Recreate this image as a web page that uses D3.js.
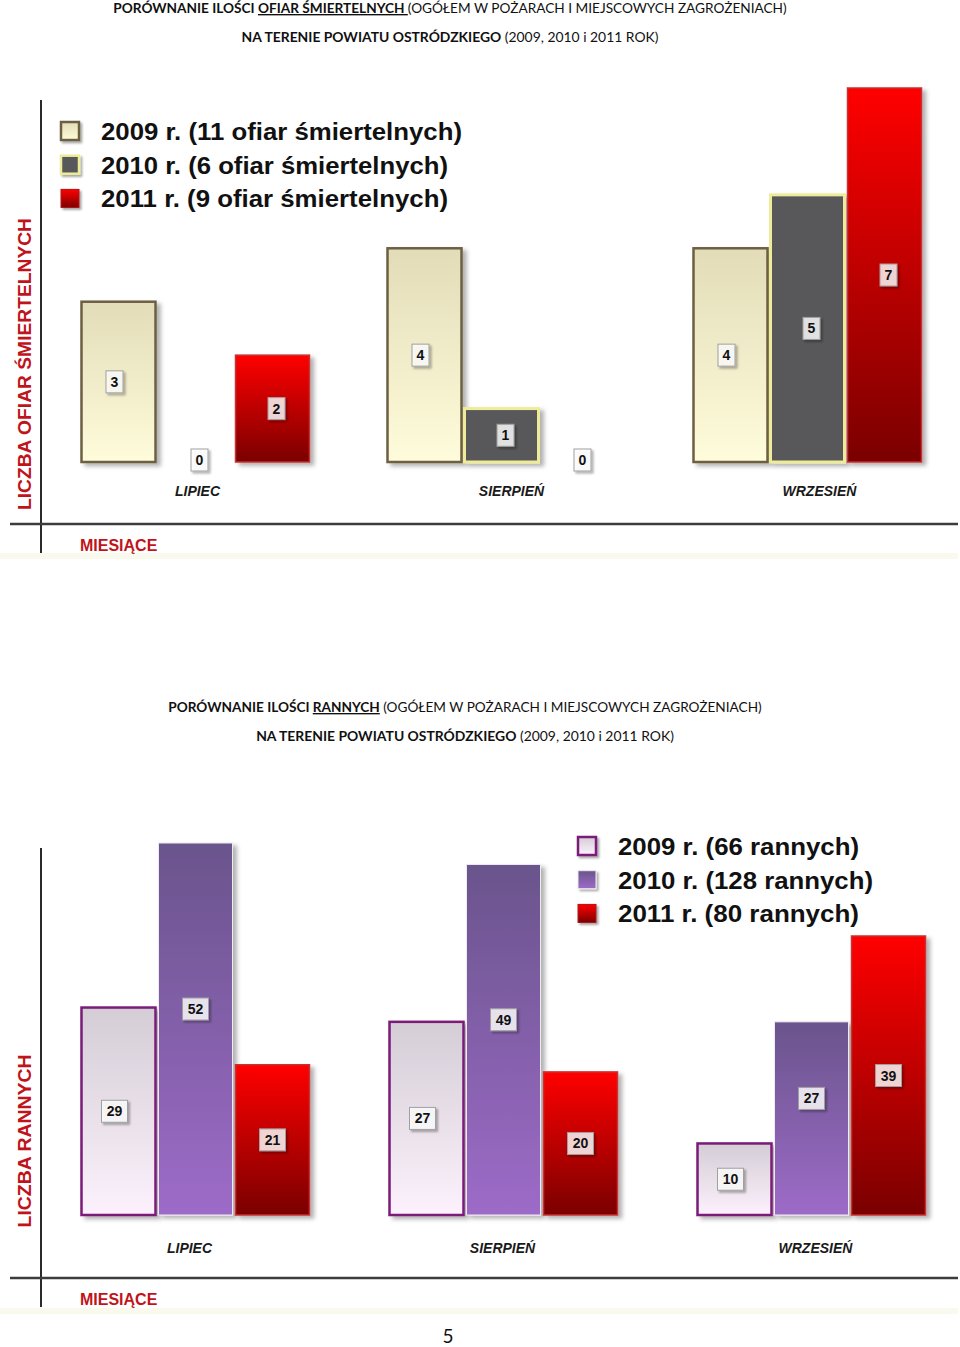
<!DOCTYPE html>
<html><head><meta charset="utf-8">
<script src="https://cdn.jsdelivr.net/npm/d3@7"></script>
<style>body{margin:0;background:#fff}svg{display:block}</style>
</head><body>
<svg id="page" width="960" height="1347"></svg>
<script>
// ---------- DATA ----------
const months = ["LIPIEC", "SIERPIEŃ", "WRZESIEŃ"];
const years = ["2009", "2010", "2011"];

const deaths2009 = [3, 4, 4];
const deaths2010 = [0, 1, 5];
const deaths2011 = [2, 0, 7];
const deathsLegend = ["2009 r. (11 ofiar śmiertelnych)", "2010 r. (6 ofiar śmiertelnych)", "2011 r. (9 ofiar śmiertelnych)"];

const injured2009 = [29, 27, 10];
const injured2010 = [52, 49, 27];
const injured2011 = [21, 20, 39];
const injuredLegend = ["2009 r. (66 rannych)", "2010 r. (128 rannych)", "2011 r. (80 rannych)"];

const title1 = [
  [{t: "PORÓWNANIE ILOŚCI ", b: true}, {t: "OFIAR ŚMIERTELNYCH ", b: true, u: true}, {t: "(OGÓŁEM W POŻARACH I MIEJSCOWYCH ZAGROŻENIACH)"}],
  [{t: "NA TERENIE POWIATU OSTRÓDZKIEGO", b: true}, {t: " (2009, 2010 i 2011 ROK)"}]
];
const title2 = [
  [{t: "PORÓWNANIE ILOŚCI ", b: true}, {t: "RANNYCH", b: true, u: true}, {t: " (OGÓŁEM W POŻARACH I MIEJSCOWYCH ZAGROŻENIACH)"}],
  [{t: "NA TERENIE POWIATU OSTRÓDZKIEGO", b: true}, {t: " (2009, 2010 i 2011 ROK)"}]
];
const yTitle1 = "LICZBA OFIAR ŚMIERTELNYCH";
const yTitle2 = "LICZBA RANNYCH";
const xTitle = "MIESIĄCE";
const pageNumber = "5";

// ---------- SETUP ----------
const svg = d3.select("#page");
const defs = svg.append("defs");
function grad(id, top, bottom) {
  const g = defs.append("linearGradient").attr("id", id).attr("x1", 0).attr("y1", 0).attr("x2", 0).attr("y2", 1);
  g.append("stop").attr("offset", "0%").attr("stop-color", top);
  g.append("stop").attr("offset", "100%").attr("stop-color", bottom);
}
grad("gBeige", "#e2dcb8", "#fffcdb");
grad("gRed", "#ff0000", "#7a0000");
grad("gLav", "#d4cdd6", "#fcf1fc");
grad("gPurple", "#6a548c", "#9d6bc8");

const sh = defs.append("filter").attr("id", "shadow").attr("x", "-20%").attr("y", "-20%").attr("width", "150%").attr("height", "150%");
sh.append("feDropShadow").attr("dx", 4).attr("dy", 3).attr("stdDeviation", 2).attr("flood-color", "#000").attr("flood-opacity", 0.3);
const sh2 = defs.append("filter").attr("id", "shadowS").attr("x", "-30%").attr("y", "-30%").attr("width", "180%").attr("height", "180%");
sh2.append("feDropShadow").attr("dx", 2).attr("dy", 2).attr("stdDeviation", 1).attr("flood-color", "#000").attr("flood-opacity", 0.35);

function fit(sel, w) {
  const n = sel.node();
  const cur = n.getComputedTextLength();
  if (Math.abs(cur - w) > 1) sel.attr("textLength", w).attr("lengthAdjust", "spacingAndGlyphs");
}
function fitSize(sel, w, base) {
  const cur = sel.node().getComputedTextLength();
  sel.attr("font-size", base * w / cur);
}

function drawTitle(lines, cx, ys, widths) {
  lines.forEach((parts, i) => {
    const t = svg.append("text").attr("x", cx).attr("y", ys[i]).attr("text-anchor", "middle")
      .attr("font-family", "Lato, Carlito, sans-serif").attr("font-size", 14.5).attr("fill", "#111");
    parts.forEach(p => {
      t.append("tspan").text(p.t).attr("font-weight", p.b ? 700 : 400)
        .style("text-decoration", p.u ? "underline" : "none");
    });
    fitSize(t, widths[i], 14.5);
  });
}

drawTitle(title1, 450, [13, 42], [674, 417]);
drawTitle(title2, 465, [712, 741], [594, 418]);

svg.append("text").attr("x", 448).attr("y", 1343).attr("text-anchor", "middle")
  .attr("font-family", "Lato, sans-serif").attr("font-size", 19).attr("fill", "#111").text(pageNumber);

// ---------- CHART ----------
function drawChart(c) {
  const g = svg.append("g");
  const series = [c.s0, c.s1, c.s2];

  g.append("rect").attr("x", 0).attr("y", c.bandY).attr("width", 958).attr("height", 6).attr("fill", "#f9f9ee");

  g.append("line").attr("x1", 41).attr("x2", 41).attr("y1", c.axisTop).attr("y2", c.axisBottom)
    .attr("stroke", "#2a2a2a").attr("stroke-width", 2);
  g.append("line").attr("x1", 10).attr("x2", 958).attr("y1", c.axisY).attr("y2", c.axisY)
    .attr("stroke", "#3c3c3c").attr("stroke-width", 2.5);

  const x = d3.scaleBand().domain(months).range(c.xRange).paddingInner(c.padInner).paddingOuter(0);
  const xs = d3.scaleBand().domain(years).range([0, x.bandwidth()]).padding(0);
  const y = d3.scaleLinear().domain([0, c.max]).range([c.base, c.top]);

  years.forEach((yr, si) => {
    const st = c.styles[si];
    months.forEach((m, mi) => {
      const v = series[si][mi];
      if (v <= 0) return;
      g.append("rect")
        .attr("x", x(m) + xs(yr) + 1.5).attr("y", y(v))
        .attr("width", xs.bandwidth() - 3).attr("height", y(0) - y(v))
        .attr("fill", st.fill).attr("stroke", st.stroke).attr("stroke-width", st.sw)
        .attr("filter", "url(#shadow)");
    });
  });

  years.forEach((yr, si) => {
    months.forEach((m, mi) => {
      const v = series[si][mi];
      const cx = x(m) + xs(yr) + xs.bandwidth() / 2 + c.labelDx[si];
      const cy = v > 0 ? (y(v) + y(0)) / 2 + c.labelDy[si] : y(0) - 2;
      const w = String(v).length > 1 ? 26 : 17;
      g.append("rect").attr("x", cx - w / 2).attr("y", cy - 11).attr("width", w).attr("height", 22)
        .attr("fill", "rgba(255,255,255,0.8)").attr("stroke", "#a0a0a0").attr("stroke-width", 1)
        .attr("filter", "url(#shadowS)");
      g.append("text").attr("x", cx).attr("y", cy + 5).attr("text-anchor", "middle")
        .attr("font-family", "Liberation Sans, Arial, sans-serif").attr("font-weight", 700)
        .attr("font-size", 14).attr("fill", "#111").text(v);
    });
  });

  months.forEach((m, mi) => {
    g.append("text").attr("x", x(m) + x.bandwidth() / 2 + c.catDx[mi]).attr("y", c.catY)
      .attr("text-anchor", "middle").attr("font-family", "Liberation Sans, Arial, sans-serif")
      .attr("font-weight", 700).attr("font-style", "italic").attr("font-size", 14).attr("fill", "#1a1a1a")
      .text(m);
  });

  const yt = g.append("text").attr("transform", `translate(${c.yTitleX},${c.yTitleCY}) rotate(-90)`)
    .attr("text-anchor", "middle").attr("font-family", "Liberation Sans, Arial, sans-serif")
    .attr("font-weight", 700).attr("font-size", 19).attr("fill", "#c0141c").text(c.yTitle);
  fit(yt, c.yTitleLen);

  const xt = g.append("text").attr("x", 80).attr("y", c.xTitleY).attr("font-family", "Liberation Sans, Arial, sans-serif")
    .attr("font-weight", 700).attr("font-size", 16).attr("fill", "#c0141c").text(xTitle);
  fit(xt, 77);

  c.legend.forEach((txt, i) => {
    const ly = c.legY + i * 33.7;
    const st = c.legStyles[i];
    g.append("rect").attr("x", c.legX).attr("y", ly - 9).attr("width", 18).attr("height", 18)
      .attr("fill", st.fill).attr("stroke", st.stroke).attr("stroke-width", st.sw)
      .attr("filter", "url(#shadowS)");
    const t = g.append("text").attr("x", c.legX + 40).attr("y", ly + 9)
      .attr("font-family", "Liberation Sans, Arial, sans-serif").attr("font-weight", 700)
      .attr("font-size", 24.5).attr("fill", "#111").text(txt);
    fit(t, c.legLens[i]);
  });
}

const redStyle = {fill: "url(#gRed)", stroke: "#c83030", sw: 1.5};

drawChart({
  s0: deaths2009, s1: deaths2010, s2: deaths2011,
  max: 7, base: 462, top: 88,
  xRange: [80, 923], padInner: 75 / 306,
  styles: [
    {fill: "url(#gBeige)", stroke: "#6d6042", sw: 2.5},
    {fill: "#58585a", stroke: "#eeec98", sw: 3},
    redStyle
  ],
  labelDx: [-4, 4, 4], labelDy: [0, 0, 0],
  catDx: [2, 10, 12], catY: 496,
  axisTop: 100, axisBottom: 553, axisY: 524, bandY: 553,
  yTitle: yTitle1, yTitleX: 31, yTitleCY: 364, yTitleLen: 292,
  xTitleY: 551,
  legend: deathsLegend, legX: 61, legY: 131, legLens: [361, 347, 347],
  legStyles: [
    {fill: "url(#gBeige)", stroke: "#6d6042", sw: 2.5},
    {fill: "#58585a", stroke: "#eeec98", sw: 2.5},
    {fill: "url(#gRed)", stroke: "#b01010", sw: 1}
  ]
});

drawChart({
  s0: injured2009, s1: injured2010, s2: injured2011,
  max: 52, base: 1215, top: 843,
  xRange: [80, 927], padInner: 77 / 308,
  styles: [
    {fill: "url(#gLav)", stroke: "#7a1a78", sw: 2.5},
    {fill: "url(#gPurple)", stroke: "#eeeaf2", sw: 1},
    redStyle
  ],
  labelDx: [-4, 0, 0], labelDy: [0, -20, 0],
  catDx: [-6, -1, 4], catY: 1253,
  axisTop: 848, axisBottom: 1307, axisY: 1278, bandY: 1308,
  yTitle: yTitle2, yTitleX: 31, yTitleCY: 1141, yTitleLen: 173,
  xTitleY: 1305,
  legend: injuredLegend, legX: 578, legY: 846, legLens: [241, 255, 241],
  legStyles: [
    {fill: "url(#gLav)", stroke: "#7a1a78", sw: 2.5},
    {fill: "url(#gPurple)", stroke: "#eeeaf2", sw: 1},
    {fill: "url(#gRed)", stroke: "#b01010", sw: 1}
  ]
});
</script>
</body></html>
